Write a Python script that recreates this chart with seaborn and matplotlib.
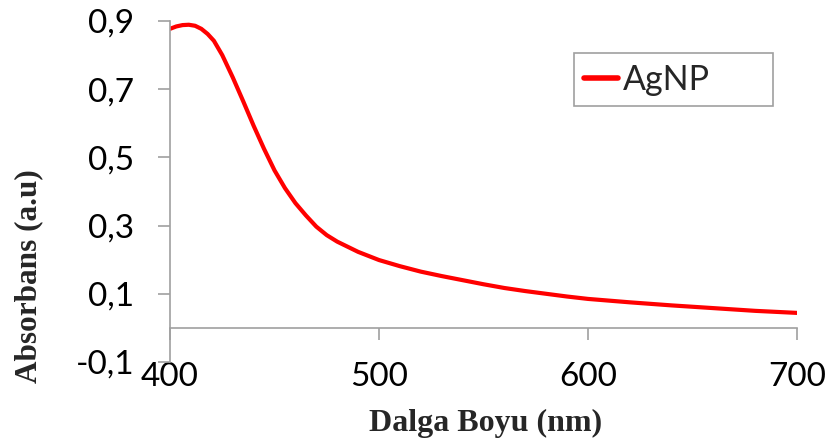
import numpy as np
import pandas as pd
import seaborn as sns
import matplotlib.pyplot as plt

# -------------------------------
# Data
# -------------------------------
wavelength = [400, 403, 406, 409, 412, 415, 418, 421, 425, 430, 435, 440,
              445, 450, 455, 460, 465, 470, 475, 480, 490, 500, 510, 520,
              530, 540, 550, 560, 570, 580, 590, 600, 620, 640, 660, 680, 700]
absorbance = [0.877, 0.884, 0.888, 0.889, 0.886, 0.877, 0.862, 0.842, 0.800,
              0.735, 0.665, 0.593, 0.525, 0.462, 0.410, 0.366, 0.330, 0.297,
              0.272, 0.253, 0.223, 0.199, 0.181, 0.165, 0.152, 0.140, 0.128,
              0.117, 0.108, 0.100, 0.092, 0.085, 0.075, 0.066, 0.058, 0.050,
              0.044]
x_ticks = [400, 500, 600, 700]
y_ticks = [-0.1, 0.1, 0.3, 0.5, 0.7, 0.9]
y_tick_labels = ["-0,1", "0,1", "0,3", "0,5", "0,7", "0,9"]

df = pd.DataFrame({"Dalga Boyu (nm)": wavelength, "Absorbans": absorbance})

sns.set_style("white")
plt.rcParams['font.family'] = ['Lato', 'DejaVu Sans']

grey = '#a0a0a0'

fig = plt.figure(figsize=(8.32, 4.46), dpi=100)
ax = fig.add_axes([170 / 832, 1 - 362 / 446, 627 / 832, 341 / 446])

sns.lineplot(data=df, x="Dalga Boyu (nm)", y="Absorbans", color='#ff0000',
             linewidth=3, label='AgNP', ax=ax)

ax.set_xlim(400, 700)
ax.set_ylim(-0.1, 0.9)
ax.set_xticks(x_ticks)
ax.set_xticklabels([str(t) for t in x_ticks])
ax.set_yticks(y_ticks)
ax.set_yticklabels(y_tick_labels)

for side in ['top', 'right']:
    ax.spines[side].set_visible(False)
for side in ['left', 'bottom']:
    ax.spines[side].set_color(grey)
    ax.spines[side].set_linewidth(1.2)
ax.spines['bottom'].set_position(('data', 0))

ax.tick_params(axis='both', direction='out', length=8.6, width=1.2,
               color=grey, labelsize=24, labelcolor='black')
ax.tick_params(axis='x', pad=16, bottom=True)
ax.tick_params(axis='y', pad=17, left=True)

ax.set_xlabel("Dalga Boyu (nm)", family='Liberation Serif', fontweight='bold',
              fontsize=23)
ax.set_ylabel("Absorbans (a.u)", family='Liberation Serif', fontweight='bold',
              fontsize=22.5)
ax.xaxis.set_label_coords(0.504, -0.137)
ax.yaxis.set_label_coords(-0.203, 0.252)

leg = ax.legend(loc='center left', mode='expand', bbox_transform=fig.transFigure,
                bbox_to_anchor=(574 / 832, 1 - 79.5 / 446, 199 / 832, 0),
                borderaxespad=0, fontsize=24.5, handlelength=1.0,
                handletextpad=0.15, borderpad=0.3, fancybox=False,
                framealpha=1, edgecolor=grey)
leg.get_frame().set_linewidth(1.2)
for line in leg.get_lines():
    line.set_linewidth(4)

fig.savefig("out.png", dpi=100)
